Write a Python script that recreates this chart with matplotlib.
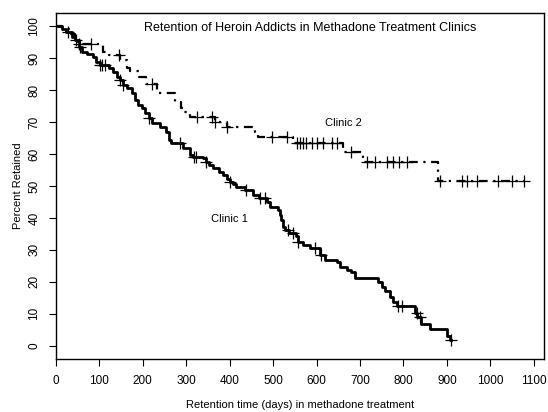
import numpy as np
import matplotlib
matplotlib.use("Agg")
import matplotlib.pyplot as plt

plt.rcParams["font.family"] = ["Liberation Sans", "DejaVu Sans"]

# Kaplan-Meier steps (day of drop, percent retained after it)
clinic1_time = [0, 15, 25, 37, 45, 53, 60, 72, 87, 94, 102, 122, 133, 141, 148, 156,
                164, 175, 182, 190, 198, 206, 214, 221, 240, 255, 261, 265, 294, 309,
                317, 339, 347, 354, 363, 375, 386, 395, 401, 409, 416, 435, 455, 468,
                486, 493, 512, 516, 519, 524, 528, 537, 552, 558, 570, 585, 608, 620,
                646, 654, 669, 680, 689, 742, 750, 757, 769, 777, 785, 826, 832, 841,
                861, 899, 907, 910]
clinic1_pct = [100, 99, 98.2, 96.5, 95.6, 93.5, 92, 91.3, 90.4, 88.8, 87.8, 86.8, 85.7,
               84.2, 83.1, 81.6, 80.5, 79, 76.9, 75.3, 74.3, 72.7, 71.2, 69.6, 68.5, 67,
               64.4, 63.3, 61.8, 59.7, 59.2, 58.6, 57.6, 56.5, 55.5, 54.5, 53.4, 52.3,
               51.3, 50.5, 49.8, 48.8, 47.2, 46.1, 45.1, 43.5, 42.5, 41, 39.4, 37.3,
               36.2, 35.2, 34.2, 32.6, 31.6, 30.5, 28.4, 26.9, 26.3, 24.8, 23.75, 23.2,
               21.2, 20.1, 18.5, 17, 15.4, 13.8, 12.5, 10.2, 9, 6.9, 5.2, 3.1, 1.8, 1.8]
clinic1_censor = [28, 48, 56, 103, 108, 113, 148, 156, 214, 287, 319, 324, 347, 401, 439,
                  470, 481, 535, 547, 558, 596, 611, 788, 796, 830, 838, 910]

clinic2_time = [0, 15, 30, 45, 51, 109, 123, 148, 164, 171, 192, 208, 233, 274, 288,
                294, 309, 367, 394, 459, 466, 547, 661, 708, 880, 1078]
clinic2_pct = [100, 99, 97.5, 95.6, 94.4, 92, 91.1, 89.4, 87, 85.8, 84.2, 82, 79,
               76.3, 74.3, 73.2, 71.7, 70.1, 68.5, 67, 65.3, 63.5, 60.7, 57.6, 51.6, 51.6]
clinic2_censor = [55, 81, 147, 221, 326, 359, 367, 394, 497, 532, 555, 562, 570, 577,
                  589, 600, 616, 635, 646, 680, 715, 734, 761, 777, 790, 807, 884, 934,
                  947, 968, 1018, 1049, 1076]


def on_curve(times, pcts, t):
    idx = np.searchsorted(times, t, side="right") - 1
    return np.array(pcts)[idx]


fig = plt.figure(figsize=(5.48, 4.12), dpi=100)
ax = fig.add_axes([0.1013, 0.128, 0.8914, 0.8413])

ax.step(clinic1_time, clinic1_pct, where="post", color="black", lw=2)
ax.plot(clinic1_censor, on_curve(clinic1_time, clinic1_pct, clinic1_censor), "+",
        color="black", ms=9, mew=0.9)

ax.step(clinic2_time, clinic2_pct, where="post", color="black", lw=1.6,
        linestyle=(0, (4, 2.5, 1, 2.5)))
ax.plot(clinic2_censor, on_curve(clinic2_time, clinic2_pct, clinic2_censor), "+",
        color="black", ms=9, mew=0.9)

ax.text(585, 99.4, "Retention of Heroin Addicts in Methadone Treatment Clinics",
        ha="center", va="center", fontsize=9)
ax.text(661, 69.6, "Clinic 2", ha="center", va="center", fontsize=8)
ax.text(399, 39.6, "Clinic 1", ha="center", va="center", fontsize=8)

ax.set_xlim(0, 1123)
ax.set_ylim(-4.2, 104.2)
ax.set_xticks(range(0, 1101, 100))
ax.set_yticks(range(0, 101, 10))
ax.tick_params(labelsize=8.5, length=5, pad=6, direction="out")
plt.setp(ax.get_yticklabels(), rotation=90, va="center")
ax.set_xlabel("Retention time (days) in methadone treatment", fontsize=8, labelpad=10)
ax.set_ylabel("Percent Retained", fontsize=8, labelpad=4)
for s in ax.spines.values():
    s.set_linewidth(1)

fig.savefig("out.png", dpi=100)
